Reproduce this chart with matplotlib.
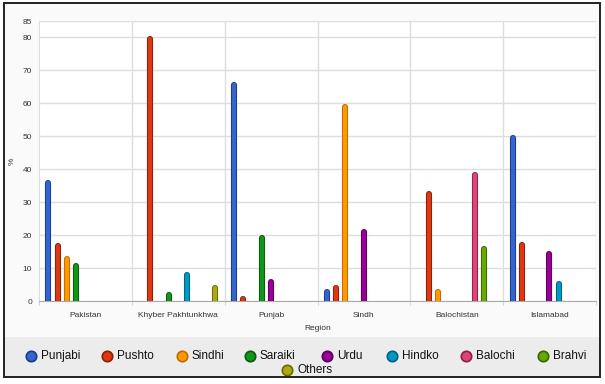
import matplotlib.pyplot as plt
import matplotlib.patheffects as pe
from matplotlib.patches import Rectangle
from matplotlib.lines import Line2D
import numpy as np

regions = ['Pakistan', 'Khyber Pakhtunkhwa', 'Punjab', 'Sindh', 'Balochistan', 'Islamabad']
languages = ['Punjabi', 'Pushto', 'Sindhi', 'Saraiki', 'Urdu', 'Hindko', 'Balochi', 'Brahvi', 'Others']
colors = ['#3366cc', '#dc3912', '#ff9900', '#109618', '#990099', '#0099c6', '#dd4477', '#66aa00', '#aaaa11']
edges = ['#1a3a8a', '#8a1e08', '#c06a00', '#0a5a0e', '#5a005a', '#006080', '#902040', '#3a6600', '#6a6a08']

# share (%) per region, order follows `regions`; None = no bar
punjabi = [36.6, None, 66.4, 3.8, None, 50.4]
pushto  = [17.7, 80.4, 1.5, 5.0, 33.5, 17.8]
sindhi  = [13.7, None, None, 59.9, 3.6, None]
saraiki = [11.5, 2.7, 20.0, None, None, None]
urdu    = [None, None, 6.6, 21.8, None, 15.3]
hindko  = [None, 8.9, None, None, None, 6.0]
balochi = [None, None, None, None, 39.3, None]
brahvi  = [None, None, None, None, 16.8, None]
others  = [None, 5.0, None, None, None, None]
series = [punjabi, pushto, sindhi, saraiki, urdu, hindko, balochi, brahvi, others]

plt.rcParams['font.family'] = ['Liberation Sans', 'DejaVu Sans']

W, H = 605, 384
DPI = 100
fig = plt.figure(figsize=(W / DPI, H / DPI), dpi=DPI)

# outer frame + legend band (behind the axes)
fig.patches.append(Rectangle((4 / W, 1 - 377 / H), 596 / W, 374 / H, transform=fig.transFigure,
                             facecolor='#fafafa', edgecolor='none', zorder=-2))
fig.patches.append(Rectangle((4 / W, 1 - 377 / H), 596 / W, 40 / H, transform=fig.transFigure,
                             facecolor='#ececec', edgecolor='none', zorder=-1))
fig.patches.append(Rectangle((4 / W, 1 - 377 / H), 596 / W, 374 / H, transform=fig.transFigure,
                             facecolor='none', edgecolor='#222222', linewidth=1.4, zorder=5))

ax_h = 280
ax = fig.add_axes([39 / W, 1 - 301 / H, 557 / W, ax_h / H])
ax.set_facecolor('white')

slot = 0.099
first = 0.102
lw_fill, lw_edge = 3.0, 4.4
# round cap sticks out by half the stroke width; pull the line end back so the cap top sits on the value
cap = (lw_edge / 2) * DPI / 72 * 85 / ax_h
for i, (vals, c, e) in enumerate(zip(series, colors, edges)):
    xs = [g + first + i * slot for g, v in enumerate(vals) if v is not None]
    ys = [v - cap for v in vals if v is not None]
    ax.vlines(xs, 0, ys, colors=c, linewidth=lw_fill, capstyle='round', zorder=3,
              path_effects=[pe.Stroke(linewidth=lw_edge, foreground=e, capstyle='round'), pe.Normal()])

ax.set_xlim(0, 6)
ax.set_ylim(0, 85)
ax.set_yticks([0, 10, 20, 30, 40, 50, 60, 70, 80, 85])
ax.set_xticks(np.arange(6) + 0.5)
ax.set_xticklabels(regions, fontsize=6, color='#333333')
ax.set_xticks(np.arange(7), minor=True)
ax.tick_params(axis='x', which='major', length=0, pad=8)
ax.tick_params(axis='x', which='minor', length=3, color='#cccccc')
ax.tick_params(axis='y', length=0, labelsize=6, labelcolor='#333333', pad=5)
ax.grid(True, axis='y', color='#dddddd', linewidth=1, zorder=0)
for x in range(1, 7):
    ax.axvline(x, color='#dddddd', linewidth=1, zorder=0)
for s in ['top', 'right']:
    ax.spines[s].set_visible(False)
ax.spines['left'].set_color('#dddddd')
ax.spines['bottom'].set_color('#aaaaaa')
ax.set_xlabel('Region', fontsize=6, color='#333333', labelpad=4)
ax.set_ylabel('%', fontsize=6, color='#333333')
ax.yaxis.set_label_coords(-23 / 557, 0.5)

# legend, laid out by hand like the original
leg_x = [31, 107, 182, 250, 327, 392, 466, 543, 287]
leg_y = [356] * 8 + [370]
for name, c, e, lx, ly in zip(languages, colors, edges, leg_x, leg_y):
    fig.add_artist(Line2D([lx / W], [1 - ly / H], transform=fig.transFigure, linestyle='none',
                          marker='o', markersize=7.5, markerfacecolor=c,
                          markeredgecolor=e, markeredgewidth=1.2))
    fig.text((lx + 10) / W, 1 - ly / H, name, fontsize=8.5, color='#111111',
             ha='left', va='center')

fig.savefig('out.png', dpi=DPI)
